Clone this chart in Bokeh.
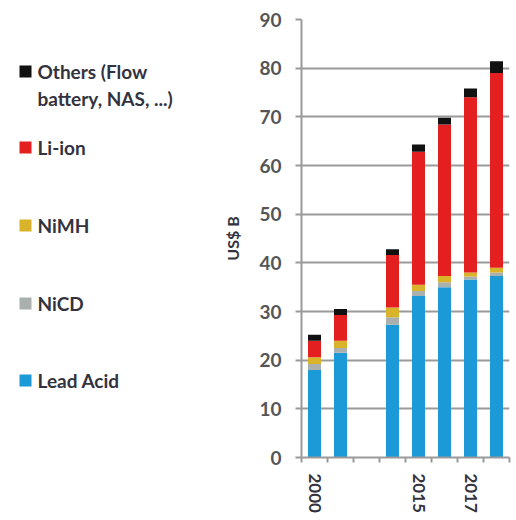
from bokeh.plotting import figure
from bokeh.models import Range1d, FixedTicker, ColumnDataSource
from bokeh.layouts import row
from bokeh.embed import file_html
from bokeh.resources import INLINE
from bokeh.core.properties import value

# ---- data (US$ B) ----
years = ["2000", "2005", "", "2014", "2015", "2016", "2017", "2018"]
lead_acid = [18.0, 21.5, 0.0, 27.3, 33.2, 35.0, 36.6, 37.3]
nicd      = [1.2, 1.0, 0.0, 1.5, 1.0, 1.0, 0.6, 0.7]
nimh      = [1.4, 1.5, 0.0, 2.0, 1.3, 1.3, 0.8, 1.0]
li_ion    = [3.4, 5.3, 0.0, 10.8, 27.3, 31.1, 36.0, 40.0]
others    = [1.2, 1.2, 0.0, 1.2, 1.5, 1.4, 1.8, 2.4]
labeled_years = ["2000", "2015", "2017"]
series_keys = ["lead_acid", "nicd", "nimh", "li_ion", "others"]
legend_labels = ["Lead Acid", "NiCD", "NiMH", "Li-ion", "Others (Flow\nbattery, NAS, ...)"]
colors = ["#1b9ad7", "#a9b0ad", "#d9b42a", "#e3201f", "#111111"]
y_ticks = [0, 10, 20, 30, 40, 50, 60, 70, 80, 90]

FONT = "Lato"
TXT = "#333340"
TOP, BOTTOM = 19, 63

xs = list(range(len(years)))
source = ColumnDataSource(dict(x=xs, lead_acid=lead_acid, nicd=nicd, nimh=nimh,
                               li_ion=li_ion, others=others))

p = figure(width=296, height=520, x_range=Range1d(-0.5, len(years) - 0.5),
           y_range=Range1d(0, 90), toolbar_location=None, output_backend="svg",
           min_border_left=73, min_border_right=7, min_border_top=TOP, min_border_bottom=BOTTOM)
p.outline_line_color = None
p.vbar_stack(series_keys, x="x", width=0.5, fill_color=colors, line_color=None, source=source)

# y axis
p.yaxis.ticker = FixedTicker(ticks=y_ticks)
p.yaxis.axis_label = "US$ B"
p.yaxis.axis_label_text_font = FONT
p.yaxis.axis_label_text_font_style = "bold"
p.yaxis.axis_label_text_font_size = "16px"
p.yaxis.axis_label_text_color = TXT
p.yaxis.axis_label_standoff = 14
p.yaxis.major_label_text_font = FONT
p.yaxis.major_label_text_font_style = "bold"
p.yaxis.major_label_text_font_size = "19px"
p.yaxis.major_label_text_color = "#555555"
p.yaxis.major_label_standoff = 14
p.yaxis.axis_line_color = "#9a9a9a"
p.yaxis.axis_line_width = 2
p.yaxis.major_tick_line_color = "#9a9a9a"
p.yaxis.major_tick_line_width = 2
p.yaxis.major_tick_in = 0
p.yaxis.major_tick_out = 6
p.yaxis.minor_tick_line_color = None

p.ygrid.ticker = FixedTicker(ticks=y_ticks)
p.ygrid.grid_line_color = "#9a9a9a"
p.ygrid.grid_line_width = 2
p.xgrid.visible = False

# x axis
label_idx = [years.index(y) for y in labeled_years]
p.xaxis.ticker = FixedTicker(ticks=label_idx, minor_ticks=[i - 0.5 for i in range(len(years) + 1)])
p.xaxis.major_label_overrides = {i: years[i] for i in label_idx}
p.xaxis.major_label_orientation = "vertical"
p.xaxis.major_label_text_font = FONT
p.xaxis.major_label_text_font_style = "bold"
p.xaxis.major_label_text_font_size = "17px"
p.xaxis.major_label_text_color = TXT
p.xaxis.major_label_standoff = 10
p.xaxis.major_tick_line_color = None
p.xaxis.axis_line_color = "#9a9a9a"
p.xaxis.axis_line_width = 2
p.xaxis.minor_tick_line_color = "#9a9a9a"
p.xaxis.minor_tick_line_width = 2
p.xaxis.minor_tick_in = 0
p.xaxis.minor_tick_out = 5

# legend panel (its frame is aligned with the chart's, so y range = pixel rows)
lf = figure(width=220, height=520, x_range=Range1d(0, 220), y_range=Range1d(520 - BOTTOM, TOP),
            toolbar_location=None, output_backend="svg",
            min_border_left=0, min_border_right=0, min_border_top=TOP, min_border_bottom=BOTTOM)
lf.axis.visible = False
lf.grid.visible = False
lf.outline_line_color = None
leg_y = [380, 303, 225, 147, 71]
lf.rect(x=[25] * 5, y=leg_y, width=12, height=12, fill_color=colors, line_color=None)

line_x, line_y, line_txt = [], [], []
for lab, y in zip(legend_labels, leg_y):
    for k, part in enumerate(lab.split("\n")):
        line_x.append(37)
        line_y.append(y + 27 * k)
        line_txt.append(part)
lf.text(x=line_x, y=line_y, text=line_txt, text_font=value(FONT),
        text_font_style="bold", text_font_size="19px", text_color=TXT,
        text_baseline="middle", text_align="left")

layout = row(lf, p)
open("out.html", "w").write(file_html(layout, INLINE))
